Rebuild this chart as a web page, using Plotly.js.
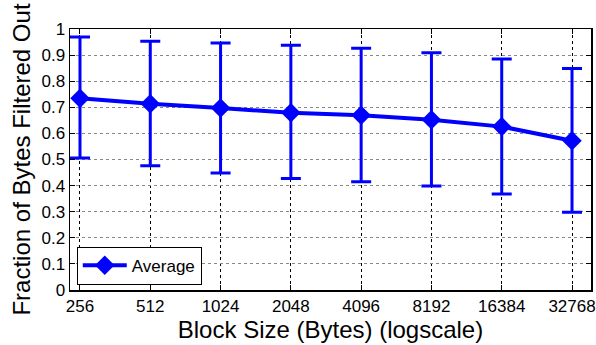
<!DOCTYPE html>
<html><head><meta charset="utf-8">
<script src="https://cdn.plot.ly/plotly-3.0.1.min.js"></script>
<style>html,body{margin:0;padding:0;background:#fff}#c{width:596px;height:345px}</style>
</head><body><div id="c"></div>
<script>
const blockSizes = [256, 512, 1024, 2048, 4096, 8192, 16384, 32768];
const avgFiltered = [0.735, 0.714, 0.697, 0.679, 0.670, 0.652, 0.626, 0.572];
const upperBound = [0.969, 0.953, 0.946, 0.938, 0.926, 0.909, 0.885, 0.849];
const lowerBound = [0.506, 0.476, 0.448, 0.427, 0.415, 0.398, 0.368, 0.298];
const yTicks = [0, 0.1, 0.2, 0.3, 0.4, 0.5, 0.6, 0.7, 0.8, 0.9, 1];
const yTickText = ['0','0.1','0.2','0.3','0.4','0.5','0.6','0.7','0.8','0.9','1'];

const errPlus = upperBound.map((u, i) => u - avgFiltered[i]);
const errMinus = lowerBound.map((l, i) => avgFiltered[i] - l);

const font = "'Liberation Sans', Arial, sans-serif";
const trace = {
  x: blockSizes, y: avgFiltered, type: 'scatter', mode: 'lines+markers', name: 'Average',
  line: {color: '#0000ff', width: 4},
  marker: {symbol: 'diamond', size: 15, color: '#0000ff'},
  error_y: {type: 'data', symmetric: false, array: errPlus, arrayminus: errMinus,
            color: '#0000ff', thickness: 3, width: 10}
};
const layout = {
  width: 596, height: 345,
  margin: {l: 70, r: 5, t: 29, b: 55},
  paper_bgcolor: '#fff', plot_bgcolor: '#fff',
  font: {family: font, color: '#000', size: 17},
  showlegend: true,
  legend: {x: 0.013, y: 0.02, xanchor: 'left', yanchor: 'bottom', bordercolor: '#000', borderwidth: 1,
           bgcolor: '#fff', font: {size: 17, family: font}, itemwidth: 44},
  xaxis: {
    type: 'log', range: [Math.log10(256) - 0.0428, Math.log10(32768) + 0.0813],
    tickvals: blockSizes, ticktext: blockSizes.map(String),
    ticks: 'inside', ticklen: 5, tickcolor: '#000', mirror: 'ticks',
    showline: true, linecolor: '#000', linewidth: 1.5,
    showgrid: true, gridcolor: '#000', griddash: 'dot', gridwidth: 1,
    zeroline: false,
    tickfont: {size: 17, family: font},
    title: {text: 'Block Size (Bytes) (logscale)', font: {size: 24, family: font}, standoff: 2}
  },
  yaxis: {
    range: [0, 1], tickvals: yTicks, ticktext: yTickText,
    ticks: 'inside', ticklen: 5, tickcolor: '#000', mirror: 'ticks',
    showline: true, linecolor: '#000', linewidth: 1.5,
    showgrid: true, gridcolor: '#888', griddash: 'dot', gridwidth: 1,
    zeroline: false,
    tickfont: {size: 17, family: font},
    title: {text: 'Fraction of Bytes Filtered Out', font: {size: 24, family: font}, standoff: 4}
  }
};
Plotly.newPlot('c', [trace], layout, {displayModeBar: false, staticPlot: true});
</script></body></html>
